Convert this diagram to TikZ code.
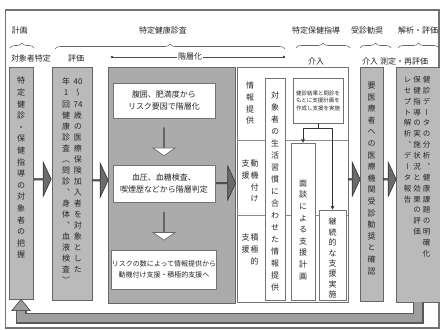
\documentclass[tikz,border=0pt]{standalone}
\usepackage{fontspec}
\setmainfont{Noto Sans CJK JP}
\newfontfamily\tatefont[RawFeature=+vert]{Noto Sans CJK JP}
\usetikzlibrary{arrows.meta,decorations.pathreplacing,shapes.arrows,calc}
\makeatletter
\newcommand\tate[2][1.45]{\vtop{\tatefont\baselineskip=#1em\relax\lineskiplimit=-20pt\lineskip=0pt\tate@#2\@nil}}
\def\tate@#1{\def\tate@tmp{#1}\ifx\tate@tmp\@nnil\else\hbox to 1em{\hss#1\hss}\expandafter\tate@\fi}
\makeatother
\begin{document}
\begin{tikzpicture}[x=1pt,y=-1pt,
  lab/.style={font=\fontsize{8}{9}\selectfont, text=black!85, inner sep=1pt},
  col/.style={draw=black!60, fill=black!27, line width=0.8pt, inner sep=0pt},
  wcell/.style={draw=black!55, fill=white, line width=0.7pt, inner sep=0pt},
  vtxt/.style={font=\fontsize{8}{9}\selectfont, text=black!85, inner sep=0pt, anchor=north},
  brc/.style={draw=black!60, line width=0.6pt, decorate, decoration={brace, amplitude=5pt}},
  blk/.style={single arrow, draw=black!80, fill=black!58, line width=0.6pt, minimum width=34pt,
    single arrow head extend=7pt, single arrow tip angle=130, inner sep=0pt},
  dnarr/.style={single arrow, draw=black!60, fill=white, line width=0.6pt, shape border rotate=270,
    minimum width=22pt, single arrow head extend=6pt, single arrow tip angle=110, inner sep=0pt, minimum height=28pt},
  conn/.style={draw=black!80, line width=0.8pt},
  sep/.style={draw=black!45, line width=0.6pt},
]
\useasboundingbox (0,0) rectangle (440,330);
\fill[white] (0,0) rectangle (440,330);
\draw[black!55, line width=1.2pt] (5.5,10) rectangle (439,328);

% top labels and braces
\node[lab] (Lplan) at (20,30) {計画};
\node[lab] (Lkenshin) at (163,30) {特定健康診査};
\node[lab] (Lhoken) at (316,30) {特定保健指導};
\node[lab] (Ljushin) at (367,30) {受診勧奨};
\node[lab] (Lkaiseki) at (418,30) {解析・評価};
\draw[brc] (10,48) -- (34,48);
\draw[brc] (55,49) -- (285,49);
\draw[brc] (296,48) -- (350,48);
\draw[brc] (360,48) -- (391,48);
\draw[brc] (398,48) -- (439,48);

% second row labels
\node[lab] (Ltaisho) at (31,58) {対象者特定};
\node[lab] (Lhyoka) at (76,58) {評価};
\node[lab, fill=white] (Lkaiso) at (190,57) {階層化};
\coordinate (kL) at (112,57);
\coordinate (kR) at (284,57);
\draw[sep, black!70] (kL) -- (Lkaiso.west);
\draw[sep, black!70] (Lkaiso.east) -- (kR);
\fill[black!75] (kL) circle (1.4pt);
\fill[black!75] (kR) circle (1.4pt);
\node[lab] (Lkainyu) at (316,61) {介入};
\node[lab] (Lkainyu2) at (370,61) {介入};
\node[lab, anchor=west] (Lsokutei) at (379,61) {測定・再評価};

% column 1
\node[col, minimum width=24pt, minimum height=232pt] (c1) at (21,183) {};
\node[vtxt] (c1t) at (21,77) {\tate{特定健診・保健指導の対象者の把握}};

% column 2
\node[col, minimum width=40pt, minimum height=233pt] (c2) at (72,183.5) {};
\node[vtxt] (c2t) at (72,78) {\tate[1.38]{年1回健康診査（問診、身体、血液検査）}\hspace{4pt}\tate[1.38]{{40}〜{74}歳の医療保険加入者を対象とした}};

% centre box
\node[col, fill=black!33, minimum width=127pt, minimum height=236pt] (cb) at (171.5,185) {};
\node[wcell, minimum width=102pt, minimum height=35pt, align=center, font=\fontsize{8}{12}\selectfont, text=black!85] (w1) at (164,100.5) {腹囲、肥満度から\\リスク要因で階層化};
\node[wcell, minimum width=102pt, minimum height=37pt, align=center, font=\fontsize{8}{12}\selectfont, text=black!85] (w2) at (164,183.5) {血圧、血糖検査、\\喫煙歴などから階層判定};
\node[wcell, minimum width=102pt, minimum height=39pt, align=center, font=\fontsize{7}{11}\selectfont, text=black!85] (w3) at (164,269.5) {リスクの数によって情報提供から\\動機付け支援・積極的支援へ};
\node[dnarr] (d1) at ($(w1.south)!0.5!(w2.north)$) {};
\node[dnarr] (d2) at ($(w2.south)!0.5!(w3.north)$) {};

% table of support levels and intervention
\node[wcell, minimum width=111pt, minimum height=235pt] (tab) at (292.5,184.5) {};
\draw[sep] (237,140) -- (348,140);
\draw[sep] (237,215) -- (348,215);
\node[vtxt] (i1) at (250,82) {\tate{情報提供}};
\node[vtxt] (i2) at (250,160) {\tate{支援}\hspace{1pt}\tate{動機付け}};
\node[vtxt] (i3) at (250,234) {\tate{支援}\hspace{1pt}\tate{積極的}};
\node[wcell, minimum width=20pt, minimum height=222pt] (tg) at (275,189) {};
\node[vtxt] (tgt) at (275,92) {\tate[1.5]{対象者の生活習慣に合わせた情報提供}};
\node[wcell, minimum width=50pt, minimum height=45pt, align=center, font=\fontsize{5.5}{7.5}\selectfont, text=black!85] (pl) at (318,100.5) {健診結果と問診を\\もとに支援計画を\\作成し支援を実施};
\node[wcell, minimum width=24pt, minimum height=157pt] (md) at (303,221.5) {};
\node[vtxt] (mdt) at (303,180) {\tate{面談による支援計画}};
\node[wcell, minimum width=27pt, minimum height=90pt] (kz) at (332.5,255) {};
\node[vtxt] (kzt) at (332.5,218) {\tate[1.3]{継続的な支援実施}};
\coordinate (j) at ($(pl.south)+(0,5)$);
\draw[conn] (pl.south) -- (j);
\draw[conn, -{Stealth[length=4pt,width=4pt]}] (j) -| (md.north);
\draw[conn, -{Stealth[length=4pt,width=4pt]}] (j) -| (kz.north);

% referral column
\node[col, minimum width=23pt, minimum height=234pt] (jc) at (371.5,184) {};
\node[vtxt] (jct) at (371.5,82) {\tate{要医療者への医療機関受診勧奨と確認}};

% analysis column
\node[col, minimum width=44pt, minimum height=235pt] (rc) at (418,184.5) {};
\node[vtxt, font=\fontsize{7.5}{9}\selectfont] (rct) at (417,76) {\tate{レセプト解析、データ報告}\hspace{2pt}\tate{保健指導の実施状況と効果の評価}\hspace{2pt}\tate{健診データの分析、健康課題の明確化}};

% block arrows between columns
\node[blk, minimum height=17pt] (a1) at ($(c1.east)!0.5!(c2.west)+(0,-4)$) {};
\node[blk, minimum height=16pt] (a2) at ($(c2.east)!0.5!(cb.west)+(0,-4)$) {};
\node[blk, minimum height=19pt] (a3) at ($(w2.east)!0.5!(tab.west)+(0,-1)$) {};
\node[blk, minimum height=12pt] (a4) at ($(tab.east)!0.5!(jc.west)+(0,-5)$) {};
\node[blk, minimum height=13pt] (a5) at ($(jc.east)!0.5!(rc.west)+(0,-5)$) {};

% feedback arrow
\coordinate (fbR) at ($(rc.south)+(0,16)$);
\coordinate (fbL) at ($(c1.south)+(0,11)$);
\draw[line width=11pt, black!65, line join=miter] (rc.south) -- (fbR) -| (fbL);
\draw[line width=8pt, black!38, line join=miter] (rc.south) -- (fbR) -| (fbL);
\filldraw[fill=black!38, draw=black!65, line width=0.8pt] (c1.south) -- ($(c1.south)+(-9,11)$) -- ($(c1.south)+(9,11)$) -- cycle;
\end{tikzpicture}
\end{document}
